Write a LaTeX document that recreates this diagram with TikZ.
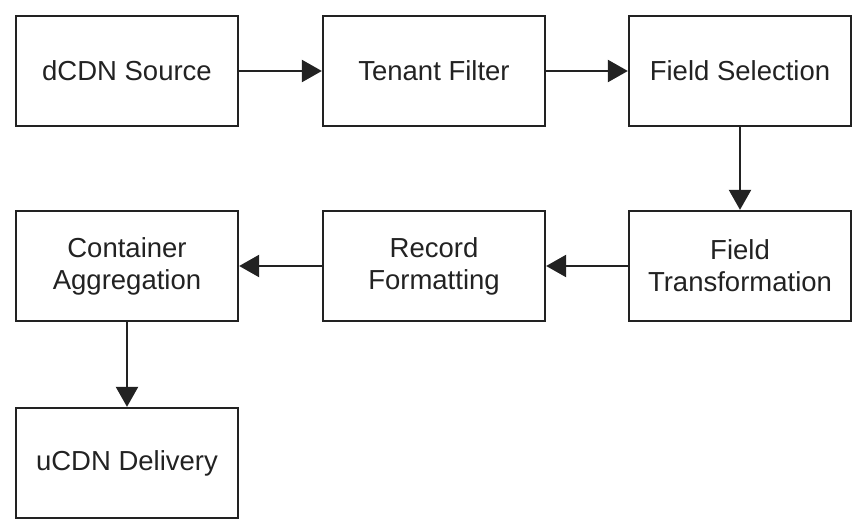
\documentclass[tikz,border=0pt]{standalone}
\usepackage{fontspec}
\setmainfont{Liberation Sans}
\usetikzlibrary{arrows.meta}
\definecolor{ink}{HTML}{222222}
\begin{document}
\begin{tikzpicture}[x=1pt,y=-1pt,
  stage/.style={draw=ink, line width=2.3pt, minimum width=222pt, minimum height=110pt,
    inner sep=0pt, align=center, text=ink, font=\fontsize{27.5}{32}\selectfont},
  flow/.style={draw=ink, line width=2.3pt, -{Triangle[length=20pt,width=22pt]}}]
  \useasboundingbox (0,0) rectangle (857,529);
  % top row
  \node[stage] (src)  at (127,71)  {dCDN Source};
  \node[stage] (ten)  at (434,71)  {Tenant Filter};
  \node[stage] (sel)  at (740,71)  {Field Selection};
  % middle row
  \node[stage] (tra)  at (740,266) {Field\\Transformation};
  \node[stage] (fmt)  at (434,266) {Record\\Formatting};
  \node[stage] (agg)  at (127,266) {Container\\Aggregation};
  % bottom row
  \node[stage] (dlv)  at (127,463) {uCDN Delivery};
  % pipeline connectors
  \draw[flow] (src) -- (ten);
  \draw[flow] (ten) -- (sel);
  \draw[flow] (sel) -- (tra);
  \draw[flow] (tra) -- (fmt);
  \draw[flow] (fmt) -- (agg);
  \draw[flow] (agg) -- (dlv);
\end{tikzpicture}
\end{document}
